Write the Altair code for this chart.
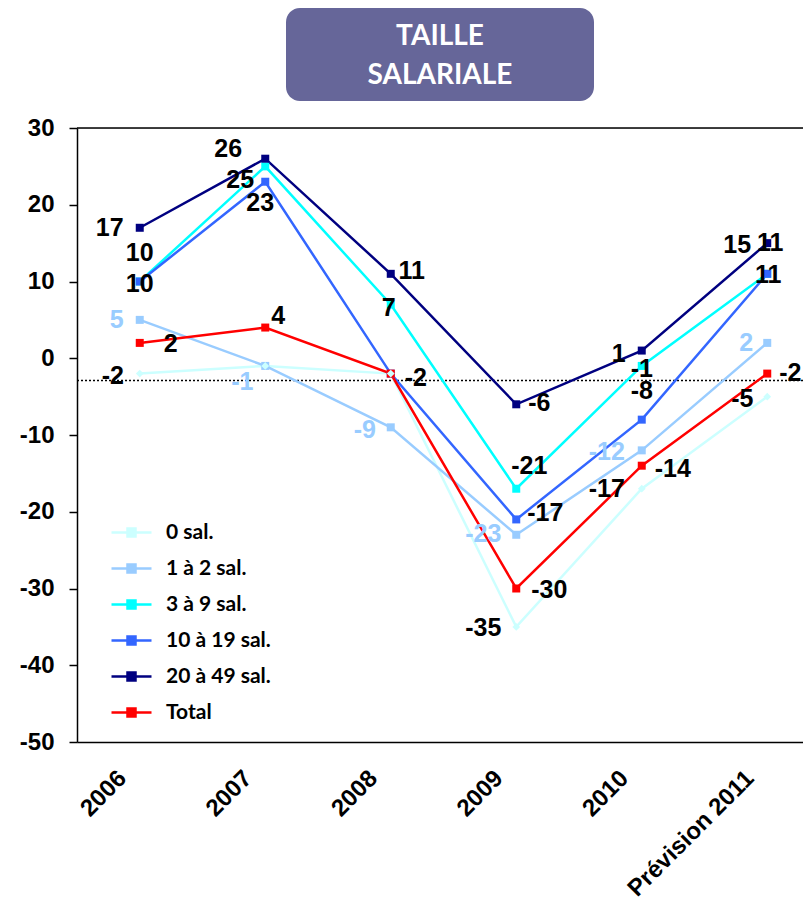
import altair as alt
import pandas as pd

# ---------------- data ----------------
YEARS = ["2006", "2007", "2008", "2009", "2010", "Prévision 2011"]
SERIES = ["0 sal.", "1 à 2 sal.", "3 à 9 sal.", "10 à 19 sal.", "20 à 49 sal.", "Total"]

SAL_0 = [-2, -1, -2, -35, -17, -5]
SAL_1_2 = [5, -1, -9, -23, -12, 2]
SAL_3_9 = [10, 25, 7, -17, -1, 11]
SAL_10_19 = [10, 23, -2, -21, -8, 11]
SAL_20_49 = [17, 26, 11, -6, 1, 15]
TOTAL = [2, 4, -2, -30, -14, -2]

# data labels as printed on the picture ("" = not shown)
LBL_0 = ["-2", "", "", "-35", "-17", "-5"]
LBL_1_2 = ["5", "-1", "-9", "-23", "-12", "2"]
LBL_3_9 = ["10", "25", "7", "-21", "-1", "11"]
LBL_10_19 = ["10", "23", "", "-17", "-8", "11"]
LBL_20_49 = ["17", "26", "11", "-6", "1", "15"]
LBL_TOTAL = ["2", "4", "-2", "-30", "-14", "-2"]

REF_LINE = -2.9
Y_TICKS = [-50, -40, -30, -20, -10, 0, 10, 20, 30]
TITLE_LINES = ["TAILLE", "SALARIALE"]

# ---------------- styles ----------------
COLORS = ["#CCFFFF", "#99CCFF", "#00FFFF", "#3366FF", "#000080", "#FF0000"]
LABEL_COLORS = ["black", "#99CCFF", "black", "black", "black", "black"]
# label offsets (dx, dy) in pixels from each marker
OFFSETS = [
    [(-27, 2), (0, 0), (0, 0), (-33, 1), (-35, 0), (-25, 2)],
    [(-23, 0), (-23, 16), (-26, 3), (-33, -1), (-35, 2), (-21, 0)],
    [(0, -29), (-25, 14), (-2, 3), (13, -23), (0, 3), (3, -31)],
    [(0, 2), (-5, 21), (0, 0), (29, -6), (0, -29), (1, 1)],
    [(-30, 0), (-37, -10), (21, -3), (23, -1), (-23, 3), (-30, 2)],
    [(31, 1), (13, -12), (25, 4), (33, 1), (31, 3), (23, -1)],
]

W, H = 726, 614
STEP = 125.5
Y_MIN, Y_MAX = -50, 30
PX_PER_UNIT = H / (Y_MAX - Y_MIN)

VALUES = [SAL_0, SAL_1_2, SAL_3_9, SAL_10_19, SAL_20_49, TOTAL]
LABELS = [LBL_0, LBL_1_2, LBL_3_9, LBL_10_19, LBL_20_49, LBL_TOTAL]

rows, lrows = [], []
for s, name in enumerate(SERIES):
    for i, yr in enumerate(YEARS):
        rows.append({"series": name, "xi": i, "year": yr, "value": VALUES[s][i]})
        if LABELS[s][i]:
            dx, dy = OFFSETS[s][i]
            lrows.append({"series": name,
                          "lx": i + dx / STEP,
                          "ly": VALUES[s][i] - dy / PX_PER_UNIT,
                          "txt": LABELS[s][i], "lc": LABEL_COLORS[s]})
df = pd.DataFrame(rows)
ldf = pd.DataFrame(lrows)

xscale = alt.Scale(domain=[-0.5, -0.5 + W / STEP], nice=False, zero=False)
yscale = alt.Scale(domain=[Y_MIN, Y_MAX], nice=False, zero=False)
colscale = alt.Scale(domain=SERIES, range=COLORS)

label_js = "[" + ",".join("'" + y + "'" for y in YEARS) + "][datum.value]"
xaxis = alt.Axis(values=list(range(len(YEARS))), labelExpr=label_js, title=None,
                 labelAngle=-45, labelAlign="right", labelBaseline="top",
                 labelPadding=24, labelOffset=-26, ticks=False, grid=False,
                 domainColor="black", domainWidth=1.5, labelFont="Liberation Sans",
                 labelFontSize=24, labelFontWeight="bold", labelColor="black",
                 labelOverlap=False, labelFlush=False, labelBound=False)
yaxis = alt.Axis(values=Y_TICKS, labelExpr="'' + datum.value", title=None,
                 tickSize=8, tickWidth=1.5, tickColor="black", domainColor="black",
                 domainWidth=1.5, grid=False, labelPadding=15,
                 labelFont="Liberation Sans", labelFontSize=24, labelFontWeight="bold",
                 labelColor="black", labelOverlap=False, labelFlush=False)

SYMBOL = "M-1,0L1,0M-0.2,-0.2L0.2,-0.2L0.2,0.2L-0.2,0.2Z"
leg = alt.Legend(orient="none", legendX=33, legendY=383, title=None,
                 symbolType=SYMBOL, symbolSize=1600, symbolStrokeWidth=2.5,
                 labelFont="Lato", labelFontSize=21, labelFontWeight="bold",
                 labelColor="black", rowPadding=4, labelOffset=13, labelLimit=300)

X = alt.X("xi:Q", scale=xscale, axis=xaxis)
Y = alt.Y("value:Q", scale=yscale, axis=yaxis)

base = alt.Chart(df)
lines = base.mark_line(strokeWidth=2.5).encode(
    x=X, y=Y,
    stroke=alt.Stroke("series:N", scale=colscale, legend=leg, sort=SERIES),
    detail="series:N",
)
pts_sq = base.transform_filter(alt.datum.series != "0 sal.").mark_point(
    shape="square", filled=True, size=64, opacity=1).encode(
    x=X, y=Y, fill=alt.Fill("series:N", scale=colscale, legend=leg, sort=SERIES))
pts_dm = base.transform_filter(alt.datum.series == "0 sal.").mark_point(
    shape="diamond", filled=True, size=60, opacity=1).encode(
    x=X, y=Y, fill=alt.Fill("series:N", scale=colscale, legend=leg, sort=SERIES))

texts = alt.Chart(ldf).mark_text(font="Liberation Sans", fontSize=25,
                                 fontWeight="bold", align="center",
                                 baseline="middle").encode(
    x=alt.X("lx:Q", scale=xscale, axis=xaxis),
    y=alt.Y("ly:Q", scale=yscale, axis=yaxis),
    text="txt:N",
    color=alt.Color("lc:N", scale=None),
)

ref = alt.Chart(pd.DataFrame({"r": [REF_LINE]})).mark_rule(
    color="black", strokeWidth=1.5, strokeDash=[2, 2]).encode(
    y=alt.Y("r:Q", scale=yscale, axis=yaxis))

dummy = pd.DataFrame({"k": [0]})
top_border = alt.Chart(dummy).mark_rule(color="black", strokeWidth=1.5).encode(
    x=alt.value(0), x2=alt.value(W), y=alt.value(0))
box = alt.Chart(dummy).mark_rect(color="#666699", cornerRadius=14, clip=False).encode(
    x=alt.value(209), x2=alt.value(517), y=alt.value(-120), y2=alt.value(-27))
t1 = alt.Chart(dummy).mark_text(font="Lato", fontSize=28, fontWeight="bold",
                                color="white", align="center", baseline="middle").encode(
    x=alt.value(363), y=alt.value(-91), text=alt.value(TITLE_LINES[0]))
t2 = alt.Chart(dummy).mark_text(font="Lato", fontSize=28, fontWeight="bold",
                                color="white", align="center", baseline="middle").encode(
    x=alt.value(363), y=alt.value(-52), text=alt.value(TITLE_LINES[1]))

chart = alt.layer(ref, top_border, lines, pts_sq, pts_dm, texts, box, t1, t2).properties(
    width=W, height=H,
    padding={"left": 69, "top": 120, "right": 0, "bottom": 161},
    autosize=alt.AutoSizeParams(type="none"),
).configure_view(stroke=None).configure(background="white")

chart.save("out.html", embed_options={"renderer": "svg", "actions": False})
